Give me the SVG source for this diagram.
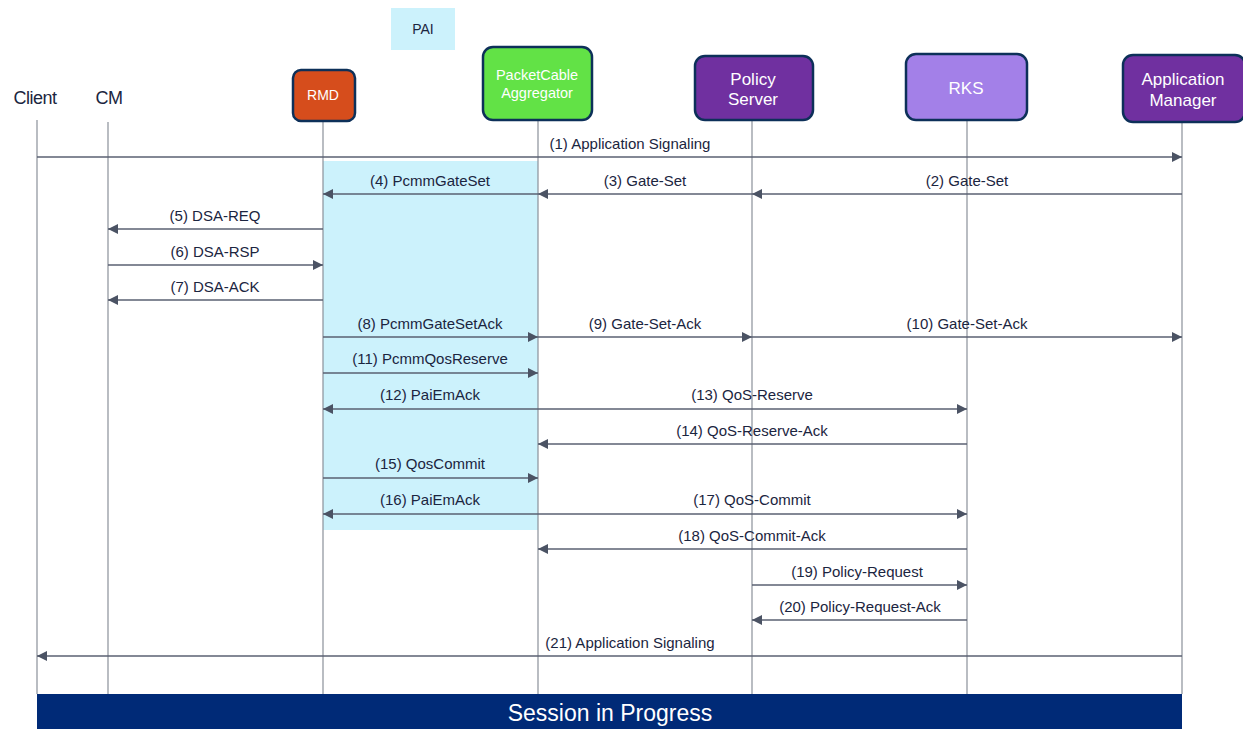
<svg xmlns="http://www.w3.org/2000/svg" width="1243" height="729" viewBox="0 0 1243 729">
<style>
.lbl{font-family:"Liberation Sans",Arial,sans-serif;font-size:15px;fill:#1b2540;text-anchor:middle}
.actor{font-family:"Liberation Sans",Arial,sans-serif;font-size:18px;fill:#1b2540;text-anchor:middle;letter-spacing:-0.5px}
.nt{font-family:"Liberation Sans",Arial,sans-serif;fill:#ffffff;text-anchor:middle}
.node{stroke:#0d3059;stroke-width:2.5}
.life{stroke:#8a9099;stroke-width:1.2;fill:none}
.msg{stroke:#5a6072;stroke-width:1.5;fill:none;marker-end:url(#ah)}
</style>
<defs>
<marker id="ah" viewBox="0 0 10 10" refX="10" refY="5" markerWidth="10" markerHeight="10" markerUnits="userSpaceOnUse" orient="auto">
<path d="M0,0 L10,5 L0,10 Z" fill="#4b5364"/>
</marker>
</defs>
<rect width="1243" height="729" fill="#ffffff"/>
<rect id="pai-region" x="323" y="161" width="215" height="369" fill="#ccf2fc"/>
<g id="lifelines">
<line class="life" x1="37" y1="120" x2="37" y2="694"/>
<line class="life" x1="108" y1="122" x2="108" y2="694"/>
<line class="life" x1="323" y1="121" x2="323" y2="694"/>
<line class="life" x1="538" y1="120" x2="538" y2="694"/>
<line class="life" x1="752" y1="120" x2="752" y2="694"/>
<line class="life" x1="967" y1="120" x2="967" y2="694"/>
<line class="life" x1="1182" y1="122" x2="1182" y2="694"/>
</g>
<g id="pai"><rect x="391" y="8" width="64" height="42" fill="#ccf2fc"/><text class="lbl" x="423" y="34" style="font-size:14px">PAI</text></g>
<g id="client"><text class="actor" x="35" y="104">Client</text></g>
<g id="cm"><text class="actor" x="109" y="104">CM</text></g>
<g id="rmd"><rect class="node" x="293" y="70" width="62" height="51" rx="8" fill="#d64d1c"/><text class="nt" x="323" y="100" font-size="14">RMD</text></g>
<g id="pca"><rect class="node" x="483" y="47" width="109" height="73" rx="10" fill="#62e246"/><text class="nt" x="537" y="80" font-size="14.5">PacketCable</text><text class="nt" x="537" y="98" font-size="14.5">Aggregator</text></g>
<g id="ps"><rect class="node" x="695" y="56" width="118" height="64" rx="10" fill="#7030a0"/><text class="nt" x="753" y="85" font-size="17">Policy</text><text class="nt" x="753" y="105" font-size="17">Server</text></g>
<g id="rks"><rect class="node" x="906" y="54" width="121" height="66" rx="10" fill="#a380e8"/><text class="nt" x="966" y="94" font-size="17">RKS</text></g>
<g id="am"><rect class="node" x="1123" y="55" width="122" height="67" rx="10" fill="#7030a0"/><text class="nt" x="1183" y="85" font-size="17">Application</text><text class="nt" x="1183" y="106" font-size="17">Manager</text></g>
<g id="connectors">
<line class="msg" x1="37" y1="157" x2="1182" y2="157"/><text class="lbl" x="630" y="149">(1) Application Signaling</text>
<line class="msg" x1="1182" y1="194" x2="752" y2="194"/><text class="lbl" x="967" y="186">(2) Gate-Set</text>
<line class="msg" x1="752" y1="194" x2="538" y2="194"/><text class="lbl" x="645" y="186">(3) Gate-Set</text>
<line class="msg" x1="538" y1="194" x2="323" y2="194"/><text class="lbl" x="430" y="186">(4) PcmmGateSet</text>
<line class="msg" x1="323" y1="229" x2="108" y2="229"/><text class="lbl" x="215" y="221">(5) DSA-REQ</text>
<line class="msg" x1="108" y1="265" x2="323" y2="265"/><text class="lbl" x="215" y="257">(6) DSA-RSP</text>
<line class="msg" x1="323" y1="300" x2="108" y2="300"/><text class="lbl" x="215" y="292">(7) DSA-ACK</text>
<line class="msg" x1="323" y1="337" x2="538" y2="337"/><text class="lbl" x="430" y="329">(8) PcmmGateSetAck</text>
<line class="msg" x1="538" y1="337" x2="752" y2="337"/><text class="lbl" x="645" y="329">(9) Gate-Set-Ack</text>
<line class="msg" x1="752" y1="337" x2="1182" y2="337"/><text class="lbl" x="967" y="329">(10) Gate-Set-Ack</text>
<line class="msg" x1="323" y1="373" x2="538" y2="373"/><text class="lbl" x="430" y="364">(11) PcmmQosReserve</text>
<line class="msg" x1="538" y1="409" x2="323" y2="409"/><text class="lbl" x="430" y="400">(12) PaiEmAck</text>
<line class="msg" x1="538" y1="409" x2="967" y2="409"/><text class="lbl" x="752" y="400">(13) QoS-Reserve</text>
<line class="msg" x1="967" y1="444" x2="538" y2="444"/><text class="lbl" x="752" y="436">(14) QoS-Reserve-Ack</text>
<line class="msg" x1="323" y1="478" x2="538" y2="478"/><text class="lbl" x="430" y="469">(15) QosCommit</text>
<line class="msg" x1="538" y1="514" x2="323" y2="514"/><text class="lbl" x="430" y="505">(16) PaiEmAck</text>
<line class="msg" x1="538" y1="514" x2="967" y2="514"/><text class="lbl" x="752" y="505">(17) QoS-Commit</text>
<line class="msg" x1="967" y1="549" x2="538" y2="549"/><text class="lbl" x="752" y="541">(18) QoS-Commit-Ack</text>
<line class="msg" x1="752" y1="585" x2="967" y2="585"/><text class="lbl" x="857" y="577">(19) Policy-Request</text>
<line class="msg" x1="967" y1="620" x2="752" y2="620"/><text class="lbl" x="860" y="612">(20) Policy-Request-Ack</text>
<line class="msg" x1="1182" y1="656" x2="37" y2="656"/><text class="lbl" x="630" y="648">(21) Application Signaling</text>
</g>
<g id="session"><rect x="37" y="694" width="1145" height="35" fill="#002a77"/><text class="nt" x="610" y="721" font-size="23">Session in Progress</text></g>
</svg>
